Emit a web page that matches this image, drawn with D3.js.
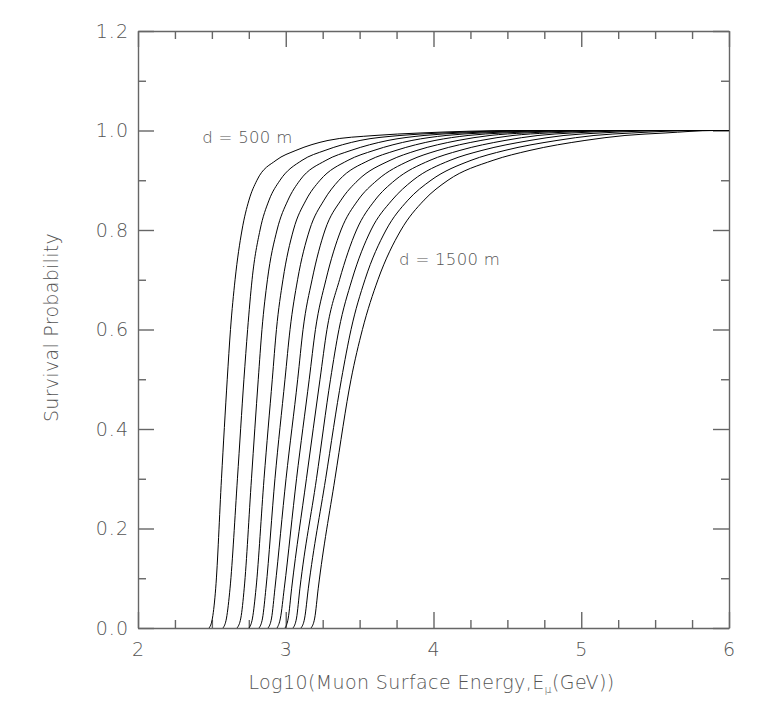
<!DOCTYPE html>
<html lang="en">
<head>
  <meta charset="utf-8">
  <script src="https://d3js.org/d3.v7.min.js"></script>
  <style>
    body { margin:0; background:#fff; }
    svg { background-color:#fff; font-family:"DejaVu Sans", sans-serif; font-weight:200; }
    .frame path, .frame line { stroke:#666; stroke-width:1.4; }
    .frame text { fill:#555; font-family:"DejaVu Sans", sans-serif; font-weight:200; font-size:19px; letter-spacing:1px; }
    .curve { fill:none; stroke:#000; stroke-width:1; }
    .label { fill:#555; font-size:16.5px; letter-spacing:0.3px; }
  </style>
</head>
<body>
<script>
  // survival probability levels (shared by every curve)
  var probLevels = [0, 0.02, 0.08, 0.3, 0.5, 0.6, 0.7, 0.8, 0.86, 0.9, 0.94, 0.96, 0.98, 0.99, 0.995, 1.0, 1.0];
  // slant depths d (m)
  var depths = [500, 600, 700, 800, 900, 1000, 1100, 1200, 1300, 1400, 1500];
  // log10(E) where each curve crosses the levels above
  var logE_500  = [2.481, 2.504, 2.526, 2.565, 2.604, 2.626, 2.657, 2.704, 2.751, 2.805, 2.934, 3.069, 3.286, 3.604, 3.909, 4.585, 6];
  var logE_600  = [2.575, 2.599, 2.623, 2.673, 2.717, 2.742, 2.772, 2.826, 2.887, 2.961, 3.110, 3.266, 3.503, 3.773, 4.058, 4.721, 6];
  var logE_700  = [2.670, 2.696, 2.719, 2.768, 2.814, 2.839, 2.876, 2.941, 3.015, 3.096, 3.272, 3.442, 3.692, 3.936, 4.193, 4.856, 6];
  var logE_800  = [2.751, 2.775, 2.799, 2.853, 2.909, 2.937, 2.981, 3.052, 3.137, 3.232, 3.421, 3.597, 3.854, 4.085, 4.328, 4.992, 6];
  var logE_900  = [2.819, 2.843, 2.866, 2.927, 2.995, 3.029, 3.080, 3.161, 3.259, 3.360, 3.563, 3.746, 4.010, 4.234, 4.470, 5.127, 6];
  var logE_1000 = [2.880, 2.904, 2.927, 3.002, 3.081, 3.117, 3.178, 3.266, 3.374, 3.489, 3.706, 3.888, 4.166, 4.382, 4.619, 5.262, 6];
  var logE_1100 = [2.941, 2.964, 2.990, 3.073, 3.159, 3.201, 3.272, 3.374, 3.489, 3.618, 3.841, 4.030, 4.321, 4.538, 4.775, 5.398, 6];
  var logE_1200 = [2.995, 3.017, 3.040, 3.140, 3.232, 3.279, 3.364, 3.479, 3.604, 3.739, 3.976, 4.179, 4.484, 4.707, 4.937, 5.533, 6];
  var logE_1300 = [3.049, 3.073, 3.096, 3.208, 3.303, 3.360, 3.448, 3.577, 3.719, 3.861, 4.112, 4.328, 4.653, 4.883, 5.127, 5.668, 6];
  var logE_1400 = [3.103, 3.128, 3.153, 3.270, 3.377, 3.442, 3.536, 3.679, 3.827, 3.983, 4.254, 4.484, 4.836, 5.086, 5.343, 5.804, 6];
  var logE_1500 = [3.171, 3.196, 3.220, 3.333, 3.442, 3.519, 3.624, 3.780, 3.936, 4.098, 4.403, 4.653, 5.025, 5.296, 5.567, 5.905, 6];
  var logE_all = [logE_500, logE_600, logE_700, logE_800, logE_900, logE_1000,
                  logE_1100, logE_1200, logE_1300, logE_1400, logE_1500];
  // ticks
  var xMajor = [2, 3, 4, 5, 6];
  var xMinor = [2.25, 2.5, 2.75, 3.25, 3.5, 3.75, 4.25, 4.5, 4.75, 5.25, 5.5, 5.75];
  var yMajor = [0, 0.2, 0.4, 0.6, 0.8, 1.0, 1.2];
  var yMinor = [0.1, 0.3, 0.5, 0.7, 0.9, 1.1];
  var xTitle = "Log10(Muon Surface Energy,E";
  var yTitle = "Survival Probability";

  var width = 781, height = 701;
  var plotL = 138, plotR = 729, plotT = 31, plotB = 628;

  var svg = d3.select("body").append("svg").attr("width", width).attr("height", height);

  var x = d3.scaleLinear().domain([2, 6]).range([plotL, plotR]);
  var y = d3.scaleLinear().domain([0, 1.2]).range([plotB, plotT]);

  var fmtY = d3.format(".1f");
  var frame = svg.append("g").attr("class", "frame");

  // bottom axis (ticks point inward)
  frame.append("g").attr("transform", "translate(0," + plotB + ")")
    .call(d3.axisBottom(x).tickValues(xMajor).tickSizeInner(-16).tickSizeOuter(0).tickPadding(15).tickFormat(d3.format("d")));
  frame.append("g").attr("transform", "translate(0," + plotB + ")")
    .call(d3.axisBottom(x).tickValues(xMinor).tickSize(-8).tickFormat(""))
    .select(".domain").remove();
  // top axis
  frame.append("g").attr("transform", "translate(0," + plotT + ")")
    .call(d3.axisTop(x).tickValues(xMajor).tickSizeInner(-16).tickSizeOuter(0).tickFormat(""));
  frame.append("g").attr("transform", "translate(0," + plotT + ")")
    .call(d3.axisTop(x).tickValues(xMinor).tickSize(-8).tickFormat(""))
    .select(".domain").remove();
  // left axis
  frame.append("g").attr("transform", "translate(" + plotL + ",0)")
    .call(d3.axisLeft(y).tickValues(yMajor).tickSizeInner(-16).tickSizeOuter(0).tickPadding(9).tickFormat(fmtY));
  frame.append("g").attr("transform", "translate(" + plotL + ",0)")
    .call(d3.axisLeft(y).tickValues(yMinor).tickSize(-8).tickFormat(""))
    .select(".domain").remove();
  // right axis
  frame.append("g").attr("transform", "translate(" + plotR + ",0)")
    .call(d3.axisRight(y).tickValues(yMajor).tickSizeInner(-16).tickSizeOuter(0).tickFormat(""));
  frame.append("g").attr("transform", "translate(" + plotR + ",0)")
    .call(d3.axisRight(y).tickValues(yMinor).tickSize(-8).tickFormat(""))
    .select(".domain").remove();

  frame.selectAll("g").attr("font-family", null).attr("font-size", null);

  // curves
  var line = d3.line()
    .x(function(d){ return x(d[0]); })
    .y(function(d){ return y(d[1]); })
    .curve(d3.curveMonotoneX);

  svg.append("g").selectAll("path")
    .data(logE_all)
    .enter()
    .append("path")
    .attr("class", "curve")
    .attr("d", function(arr){
      return line(arr.map(function(v, i){ return [v, probLevels[i]]; }));
    });

  // curve labels
  svg.append("text").attr("class", "label")
    .attr("x", x(2.435)).attr("y", y(0.975))
    .text("d = " + depths[0] + " m");
  svg.append("text").attr("class", "label")
    .attr("x", x(3.767)).attr("y", y(0.73))
    .text("d = " + depths[depths.length - 1] + " m");

  // axis titles
  var xt = svg.append("text")
    .attr("x", (plotL + plotR) / 2 - 2).attr("y", 689)
    .attr("text-anchor", "middle")
    .style("fill", "#555").style("font-size", "19px").style("letter-spacing", "0.4px");
  xt.append("tspan").text(xTitle);
  xt.append("tspan").attr("dy", 4).style("font-size", "11px").text("\u03bc");
  xt.append("tspan").attr("dy", -4).text("(GeV))");

  svg.append("text")
    .attr("transform", "translate(58," + (y(0.6) - 2) + ") rotate(-90)")
    .attr("text-anchor", "middle")
    .style("fill", "#555").style("font-size", "19px").style("letter-spacing", "0.3px")
    .text(yTitle);
</script>
</body>
</html>
